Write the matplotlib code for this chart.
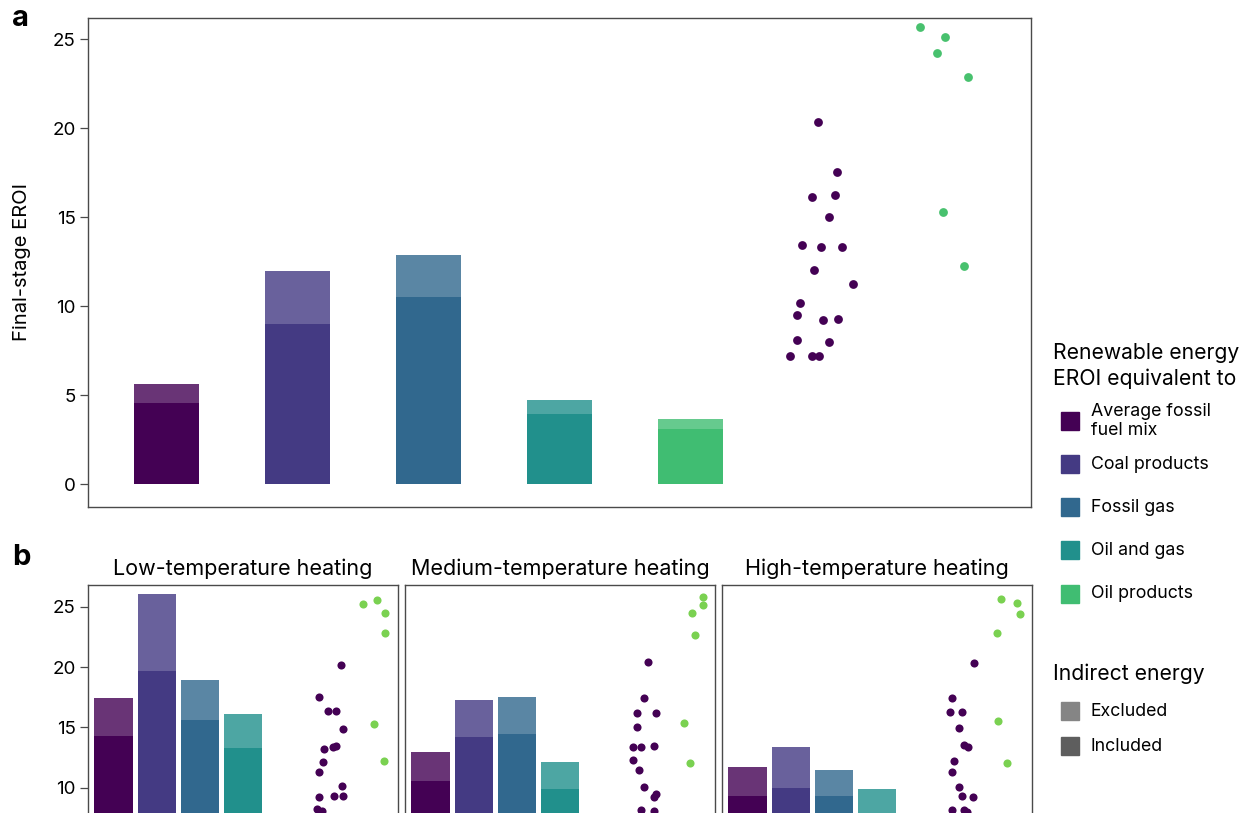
import numpy as np
import matplotlib.pyplot as plt
from matplotlib.patches import Rectangle

plt.rcParams['font.family'] = ['Inter', 'DejaVu Sans']

W, H = 1250, 813

# categories and colours (viridis-like)
categories = ['Average fossil\nfuel mix', 'Coal products', 'Fossil gas', 'Oil and gas', 'Oil products']
colors = ['#440154', '#443a83', '#31688e', '#21908c', '#40bd72']

# panel a: final-stage EROI of fossil fuels (indirect energy excluded / included)
a_excluded = [5.62, 11.97, 12.87, 4.72, 3.65]
a_included = [4.55, 8.99, 10.50, 3.93, 3.09]

# renewable technologies, EROI equivalent to the average fossil mix / oil products
a_mix_vals = [20.34, 17.57, 16.12, 16.27, 15.04, 13.47, 13.35, 13.31, 12.04, 11.25,
              10.19, 9.51, 9.25, 9.29, 8.09, 8.01, 7.23, 7.23, 7.23]
a_mix_jit = [-0.03, 0.12, -0.07, 0.10, 0.06, -0.15, 0.00, 0.16, -0.06, 0.24,
             -0.16, -0.19, 0.01, 0.13, -0.19, 0.06, -0.24, -0.07, -0.02]
a_oil_vals = [25.71, 25.11, 24.25, 22.90, 15.32, 12.27]
a_oil_jit = [-0.25, -0.06, -0.12, 0.12, -0.07, 0.09]

# panel b: facets by heating temperature
facet_titles = ['Low-temperature heating', 'Medium-temperature heating', 'High-temperature heating']

low_excluded = [17.42, 26.05, 18.91, 16.13, 6.2]
low_included = [14.26, 19.71, 15.64, 13.32, 5.1]
med_excluded = [12.94, 17.27, 17.54, 12.11, 5.0]
med_included = [10.56, 14.20, 14.43, 9.90, 4.1]
high_excluded = [11.74, 13.38, 11.47, 9.92, 4.3]
high_included = [9.32, 9.98, 9.32, 7.60, 3.5]

low_mix_vals = [20.17, 17.49, 16.33, 16.33, 14.87, 13.21, 13.40, 13.48, 12.16, 11.28,
                10.17, 9.26, 9.34, 9.34, 8.24, 8.10, 7.30, 7.30, 7.20]
low_mix_jit = [0.27, -0.23, -0.03, 0.15, 0.33, -0.11, 0.08, 0.15, -0.15, -0.23,
               0.29, -0.23, 0.12, 0.32, -0.27, -0.17, -0.25, -0.05, -0.15]
low_oil_vals = [25.20, 25.55, 24.45, 22.85, 15.31, 12.22]
low_oil_jit = [-0.21, 0.12, 0.30, 0.30, 0.05, 0.28]

med_mix_vals = [20.39, 17.46, 16.22, 16.22, 15.00, 13.35, 13.35, 13.46, 12.27, 11.47,
                10.04, 9.48, 9.26, 8.16, 8.10, 7.30, 7.30, 7.20, 7.00]
med_mix_jit = [0.05, -0.05, -0.22, 0.23, -0.21, -0.31, -0.13, 0.18, -0.30, -0.17,
               -0.04, 0.23, 0.18, -0.12, 0.19, -0.25, 0.05, -0.10, 0.15]
med_oil_vals = [25.78, 25.14, 24.50, 22.63, 15.39, 12.08]
med_oil_jit = [0.31, 0.33, 0.07, 0.13, -0.12, 0.03]

high_mix_vals = [20.36, 17.41, 16.28, 16.28, 14.95, 13.54, 13.35, 12.24, 11.33, 10.04,
                 9.34, 9.26, 8.16, 8.16, 8.00, 7.30, 7.30, 7.20, 7.00]
high_mix_jit = [0.26, -0.26, -0.30, -0.03, -0.10, 0.02, 0.12, -0.21, -0.26, -0.09,
                -0.03, 0.23, -0.26, 0.02, 0.10, -0.20, 0.05, -0.12, 0.20]
high_oil_vals = [25.66, 25.28, 24.42, 22.85, 15.53, 12.08]
high_oil_jit = [-0.12, 0.26, 0.32, -0.22, -0.19, 0.02]

facets = [
    (low_excluded, low_included, low_mix_vals, low_mix_jit, low_oil_vals, low_oil_jit),
    (med_excluded, med_included, med_mix_vals, med_mix_jit, med_oil_vals, med_oil_jit),
    (high_excluded, high_included, high_mix_vals, high_mix_jit, high_oil_vals, high_oil_jit),
]


def draw_panel(ax, excl, incl, mix_v, mix_j, oil_v, oil_j, width, oil_dot, size):
    x = np.arange(len(excl))
    # excluded drawn lighter behind, included solid on top
    ax.bar(x, excl, width, color=colors, alpha=0.8, lw=0, zorder=2)
    ax.bar(x, incl, width, color=colors, lw=0, zorder=3)
    ax.scatter(len(excl) + np.array(mix_j), mix_v, s=size, color='#440154', lw=0, zorder=4)
    ax.scatter(len(excl) + 1 + np.array(oil_j), oil_v, s=size, color=oil_dot, lw=0, zorder=4)
    ax.set_xlim(-0.6, 6.6)
    ax.set_xticks([])
    for sp in ax.spines.values():
        sp.set_color('#4a4a4a')
        sp.set_linewidth(1.0)
    ax.tick_params(axis='y', length=6, width=0.9, color='#4a4a4a', labelsize=13.5, pad=3)


fig = plt.figure(figsize=(W / 100, H / 100), dpi=100)

# panel a
axa = fig.add_axes([88 / W, 1 - 506.6 / H, (1031 - 88) / W, 488.6 / H])
draw_panel(axa, a_excluded, a_included, a_mix_vals, a_mix_jit, a_oil_vals, a_oil_jit,
           0.5, '#48c16e', 40)
axa.set_ylim(-1.25, 26.2)
axa.set_yticks([0, 5, 10, 15, 20, 25])
fig.text(22 / W, 1 - 262 / H, 'Final-stage EROI', rotation=90, ha='center', va='center', fontsize=14.5)

# panel b (cropped at the bottom edge of the figure, as in the source)
b_lefts = [88, 405, 722]
b_width = 310
ylim_b = (-1.25, 26.8)
b_height = (ylim_b[1] - ylim_b[0]) * 12.07
for i, (left, title, fac) in enumerate(zip(b_lefts, facet_titles, facets)):
    ax = fig.add_axes([left / W, 1 - (585 + b_height) / H, b_width / W, b_height / H])
    draw_panel(ax, *fac, 0.9, '#7ad151', 34)
    ax.set_ylim(*ylim_b)
    ax.set_yticks([10, 15, 20, 25])
    if i > 0:
        ax.tick_params(axis='y', left=False, labelleft=False)
    ax.set_title(title, fontsize=15.5, pad=7)

fig.text(12 / W, 1 - 18 / H, 'a', fontsize=21, fontweight='bold', va='center', ha='left')
fig.text(12 / W, 1 - 557 / H, 'b', fontsize=21, fontweight='bold', va='center', ha='left')

# legends drawn by hand in pixel positions
fig.text(1053 / W, 1 - 353 / H, 'Renewable energy', fontsize=15.2, va='center')
fig.text(1053 / W, 1 - 379 / H, 'EROI equivalent to', fontsize=15.2, va='center')
leg_y = [421, 464, 507, 550, 594]
for yy, lab, col in zip(leg_y, categories, colors):
    fig.add_artist(Rectangle((1061 / W, 1 - (yy + 9) / H), 18 / W, 18 / H, color=col,
                             transform=fig.transFigure))
    fig.text(1091 / W, 1 - yy / H, lab, fontsize=12.8, va='center', linespacing=1.15)

fig.text(1053 / W, 1 - 674 / H, 'Indirect energy', fontsize=15.2, va='center')
for yy, lab, col in zip([711, 746], ['Excluded', 'Included'], ['#858585', '#5e5e5e']):
    fig.add_artist(Rectangle((1061 / W, 1 - (yy + 9) / H), 18 / W, 18 / H, color=col,
                             transform=fig.transFigure))
    fig.text(1091 / W, 1 - yy / H, lab, fontsize=12.8, va='center')

fig.savefig('out.png', dpi=100)
